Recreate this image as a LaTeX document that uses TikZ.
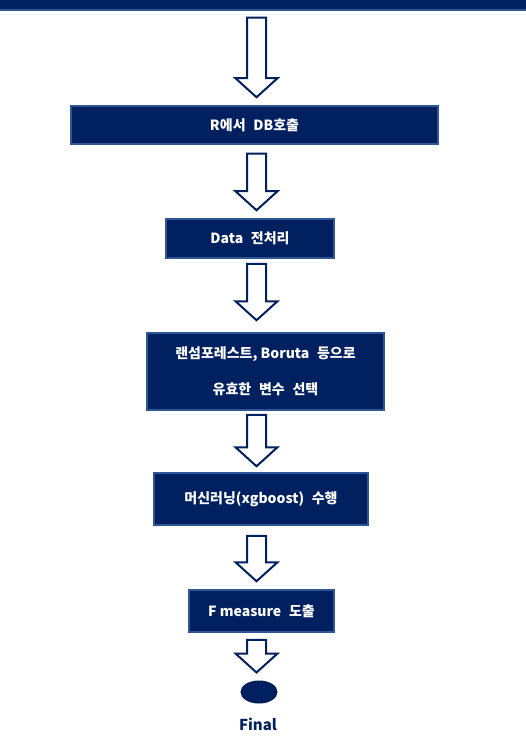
\documentclass[tikz,border=0pt]{standalone}
\usepackage{fontspec}
\setmainfont{Noto Sans CJK KR}
\usetikzlibrary{calc,shapes.geometric}

\definecolor{navy}{RGB}{0,32,96}
\definecolor{edgeblue}{RGB}{47,85,151}

\newcommand{\gap}{\hspace{0.55em}}

\tikzset{
  stepbox/.style={draw=edgeblue,line width=1.5pt,fill=navy,text=white,inner sep=0pt,
    font=\fontsize{14}{17}\selectfont\bfseries},
  flowarrow/.style={draw=navy,fill=white,line width=2pt,line join=miter}
}

% block arrow from one node down to the next
\newcommand{\flowarrow}[4]{%
  \draw[flowarrow] let \p1=(#1.south), \p2=(#2.north) in
    (256.5pt-9.5pt,\y1-#3pt) -- (256.5pt+9.5pt,\y1-#3pt) -- (256.5pt+9.5pt,\y2+#4pt+19pt)
    -- (256.5pt+21pt,\y2+#4pt+19pt) -- (256.5pt,\y2+#4pt) -- (256.5pt-21pt,\y2+#4pt+19pt)
    -- (256.5pt-9.5pt,\y2+#4pt+19pt) -- cycle;}

\begin{document}
\begin{tikzpicture}[x=1pt,y=-1pt]

\useasboundingbox (0,0) rectangle (525,743);

\node[stepbox,minimum width=528,minimum height=20] (top) at (262.5,0) {};

\node[stepbox,minimum width=367,minimum height=38] (rdb) at (254.5,125) {R에서\gap DB호출};
\node[stepbox,minimum width=168,minimum height=39] (prep) at (250,238.5) {Data\gap 전처리};
\node[stepbox,minimum width=237,minimum height=77,align=center] (sel) at (265.5,371.5)
  {랜섬포레스트, Boruta\gap 등으로\\[19pt]유효한\gap 변수\gap 선택};
\node[stepbox,minimum width=214,minimum height=52] (ml) at (261,499) {머신러닝(xgboost)\gap 수행};
\node[stepbox,minimum width=145,minimum height=42] (fm) at (261.5,611) {F measure\gap 도출};

\node[ellipse,draw=navy!80!black,fill=navy,line width=1pt,minimum width=36,minimum height=22,inner sep=0pt] (final) at (259,692) {};
\node[text=navy,font=\fontsize{15}{17}\selectfont\bfseries] (flabel) at (258,724) {Final};

% arrows
\foreach \a/\b/\g/\h in {top/rdb/7/8,rdb/prep/9/8,prep/sel/5/12,sel/ml/4/6,ml/fm/10/8,fm/final/7/8}
  \flowarrow{\a}{\b}{\g}{\h};

\end{tikzpicture}
\end{document}
